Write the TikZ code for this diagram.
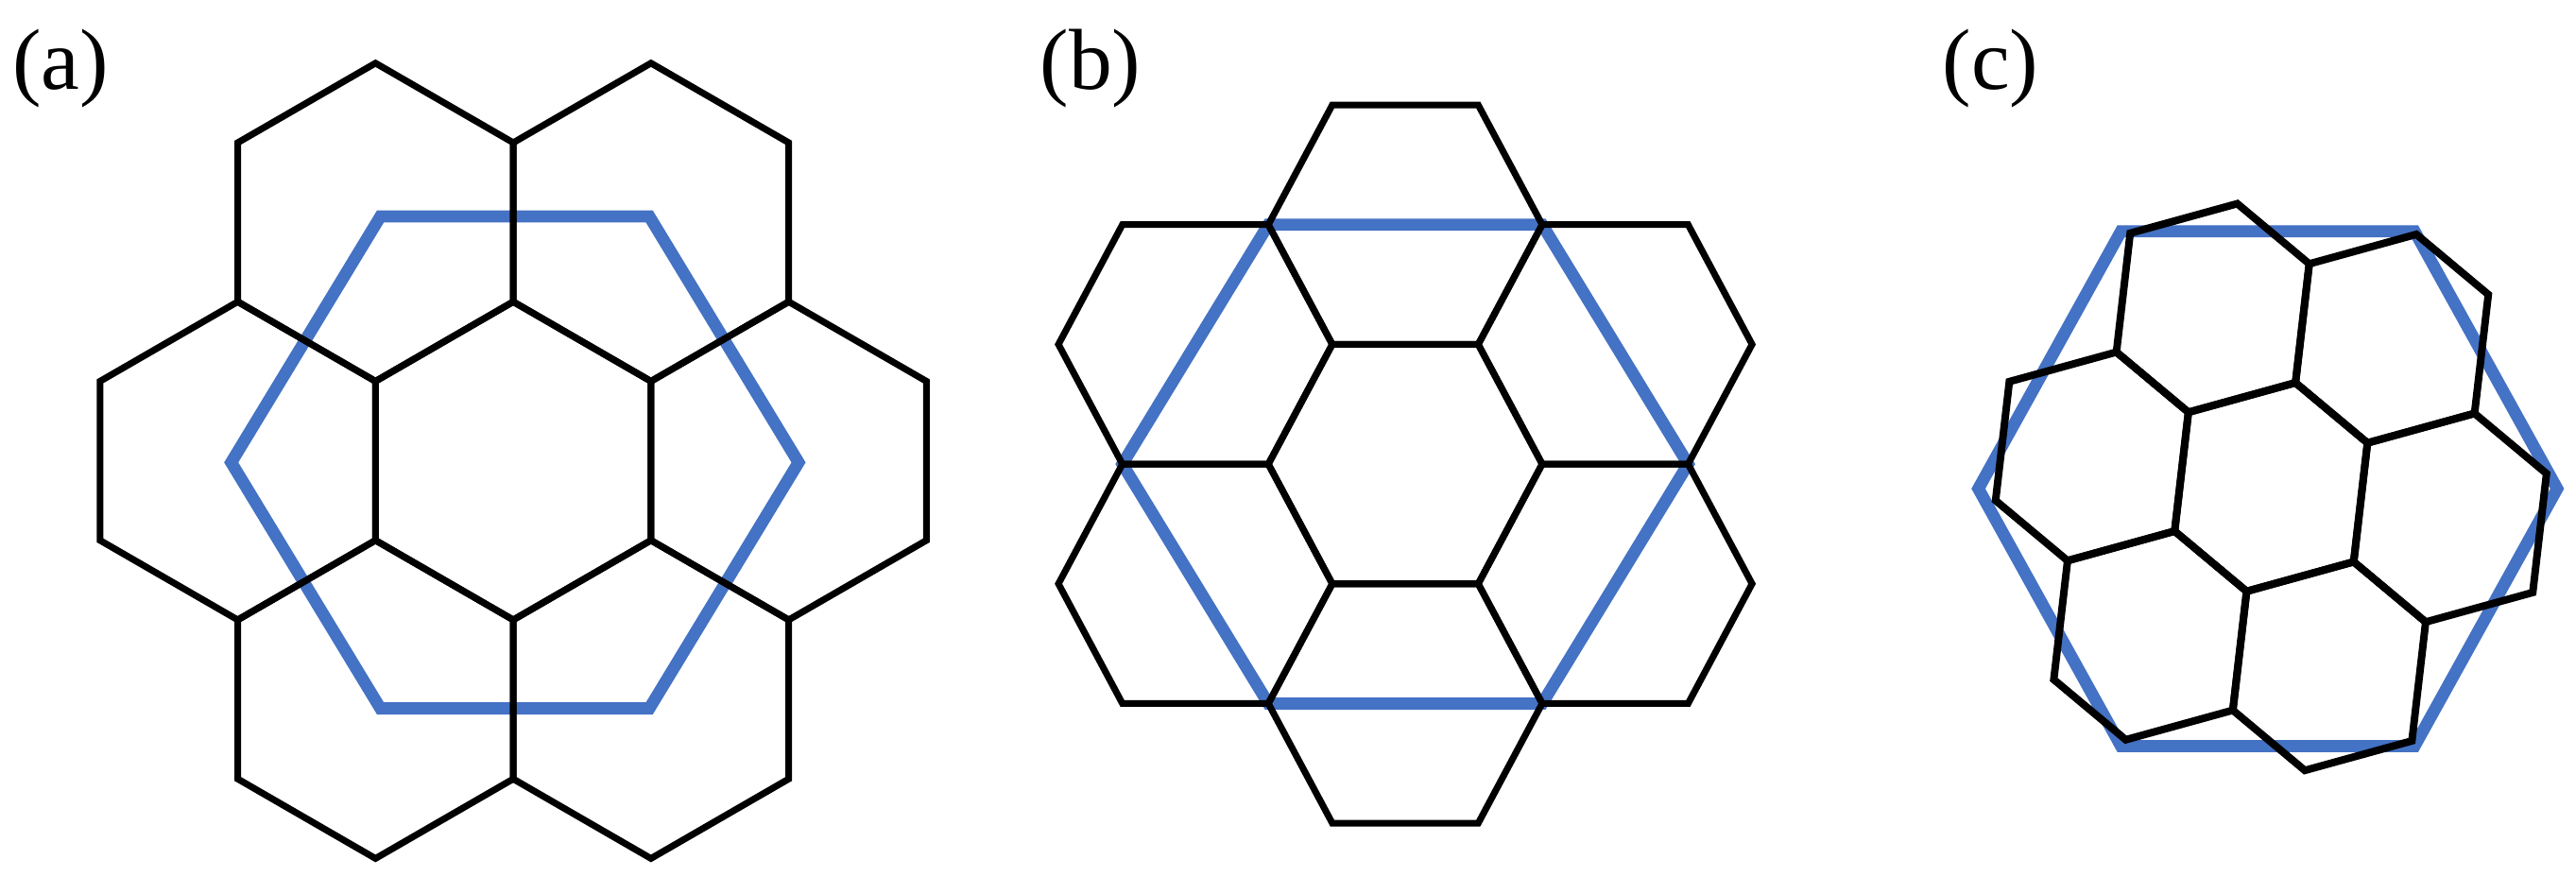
\documentclass[tikz,border=0pt]{standalone}
\usepackage{fontspec}
\setmainfont{Liberation Serif}
\definecolor{hexblue}{HTML}{4472C4}
\begin{document}
\begin{tikzpicture}[x=0.01cm,y=-0.01cm,
  blk/.style={draw=black,line width=1.15pt,line join=miter},
  blu/.style={draw=hexblue,line width=2.1pt,line join=miter},
  lab/.style={font=\fontsize{15}{17}\selectfont,inner sep=0pt}]
\useasboundingbox (0,0) rectangle (1571,545);
% labels
\node[lab] (la) at (37,42) {(a)};
\node[lab] (lb) at (665,42) {(b)};
\node[lab] (lc) at (1214,42) {(c)};
% (a)
\draw[blu,shift={(314,282)}] (-173,0)--(-82,-150)--(82,-150)--(173,0)--(82,150)--(-82,150)--cycle;
\foreach \cx/\cy in {0/0,168/0,-168/0,84/145.5,-84/145.5,84/-145.5,-84/-145.5}
  \draw[blk,shift={(313+\cx,281+\cy)}] (0,-97)--(84,-48.5)--(84,48.5)--(0,97)--(-84,48.5)--(-84,-48.5)--cycle;
% (b)
\draw[blu,shift={(857,283)}] (-172.5,0)--(-83.5,-146)--(83.5,-146)--(172.5,0)--(83.5,146)--(-83.5,146)--cycle;
\foreach \cx/\cy in {0/0,0/146,0/-146,128/73,-128/73,128/-73,-128/-73}
  \draw[blk,shift={(857+\cx,283+\cy)}] (-83.5,0)--(-44.5,-73)--(44.5,-73)--(83.5,0)--(44.5,73)--(-44.5,73)--cycle;
% (c)
\draw[blu,shift={(1383,298)}] (-176.5,0)--(-89.5,-157)--(89.5,-157)--(176.5,0)--(89.5,157)--(-89.5,157)--cycle;
\foreach \cx/\cy in {0/0,-35.5/-109.2,73.7/-90.5,109.2/18.7,35.5/109.2,-73.7/90.5,-109.2/-18.7}
  \draw[blk,line width=1.3pt,shift={(1385+\cx,297+\cy)}] (-50.4,-45.6)--(14.9,-63.6)--(58.8,-26.9)--(50.4,45.6)--(-14.9,63.6)--(-58.8,26.9)--cycle;
\end{tikzpicture}
\end{document}
